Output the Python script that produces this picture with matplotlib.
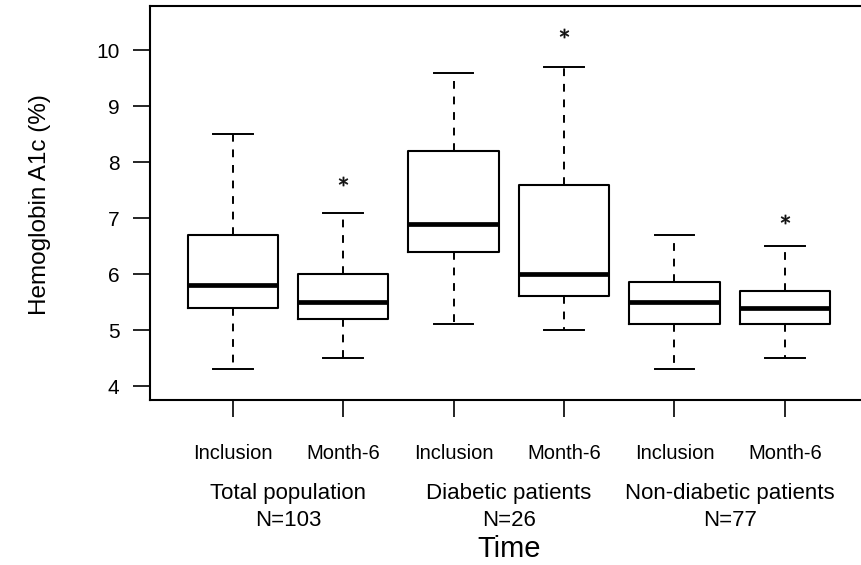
import matplotlib.pyplot as plt
import numpy as np

plt.rcParams['font.family'] = ['Liberation Sans', 'DejaVu Sans']

# boxplot stats
labels = ['Inclusion', 'Month-6'] * 3
groups = ['Total population', 'Diabetic patients', 'Non-diabetic patients']
ns = ['N=103', 'N=26', 'N=77']
whislo = [4.3, 4.5, 5.1, 5.0, 4.3, 4.5]
q1 = [5.4, 5.2, 6.4, 5.6, 5.1, 5.1]
med = [5.8, 5.5, 6.9, 6.0, 5.5, 5.4]
q3 = [6.7, 6.0, 8.2, 7.6, 5.85, 5.7]
whishi = [8.5, 7.1, 9.6, 9.7, 6.7, 6.5]
# position of the "*" above some boxes (None = no star)
stars = [None, 7.67, None, 10.3, None, 6.98]

stats = []
for i in range(6):
    stats.append(dict(whislo=whislo[i], q1=q1[i], med=med[i], q3=q3[i],
                      whishi=whishi[i], fliers=[]))

fig = plt.figure(figsize=(8.61, 5.65), dpi=100)
ax = fig.add_axes([150/861, 1-400/565, 1-150/861, 394/565])

pos = np.arange(1, 7)
ax.bxp(stats, positions=pos, widths=0.82, showfliers=False, capwidths=0.36,
       boxprops=dict(color='black', lw=1.5),
       medianprops=dict(color='black', lw=3.4, solid_capstyle='butt'),
       whiskerprops=dict(color='black', lw=1.4, linestyle=(0, (4, 4))),
       capprops=dict(color='black', lw=1.4))

for x, s in zip(pos, stars):
    if s is not None:
        ax.plot(x, s, marker='$*$', color='#111111', ms=6.5, mew=0.5, ls='none')

ax.set_xlim(0.25, 6.69)
ax.set_ylim(3.75, 10.79)
ax.set_yticks([4, 5, 6, 7, 8, 9, 10])
ax.set_xticks(pos)
ax.set_xticklabels(labels)
ax.tick_params(axis='y', length=12, width=1.2, labelsize=15, pad=10)
ax.tick_params(axis='x', length=12, width=1.2, labelsize=14.5, pad=20)
ax.spines['right'].set_visible(False)
for sp in ['left', 'top', 'bottom']:
    ax.spines[sp].set_linewidth(1.5)

for k in range(3):
    xc = (pos[2*k] + pos[2*k+1]) / 2
    xf = (150 + (xc - 0.25) * 711 / 6.44) / 861
    fig.text(xf, 1-493/565, groups[k], ha='center', va='center', fontsize=16)
    fig.text(xf, 1-520/565, ns[k], ha='center', va='center', fontsize=16)

fig.text(509/861, 1-549/565, 'Time', ha='center', va='center', fontsize=21)
fig.text(40/861, 1-205/565, 'Hemoglobin A1c (%)', ha='center', va='center',
         rotation=90, fontsize=17.5)

fig.savefig('out.png', dpi=100)
